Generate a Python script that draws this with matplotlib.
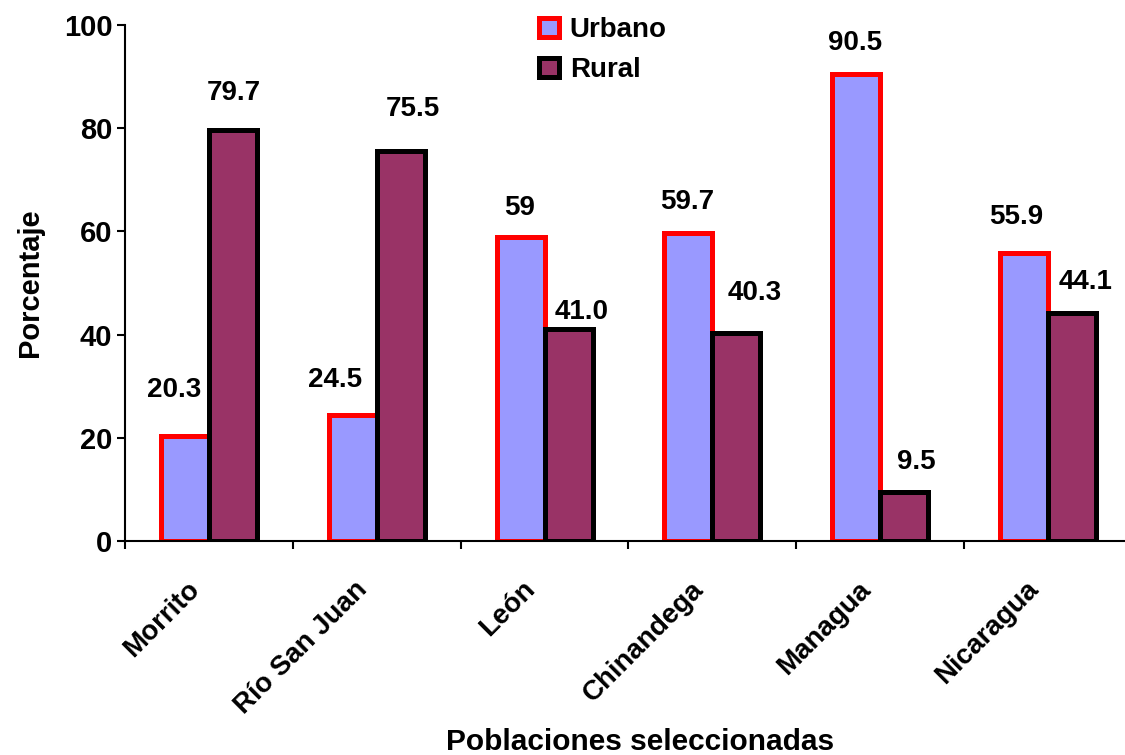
import matplotlib.pyplot as plt
from matplotlib.patches import Patch
from matplotlib.transforms import ScaledTranslation
import numpy as np

# Población urbana / rural por lugar (%)
lugares = ['Morrito', 'Río San Juan', 'León', 'Chinandega', 'Managua', 'Nicaragua']
urbano = [20.3, 24.5, 59, 59.7, 90.5, 55.9]
rural = [79.7, 75.5, 41.0, 40.3, 9.5, 44.1]
urbano_txt = ['20.3', '24.5', '59', '59.7', '90.5', '55.9']
rural_txt = ['79.7', '75.5', '41.0', '40.3', '9.5', '44.1']

# desplazamiento de las etiquetas (pixeles) respecto al tope de cada barra
urbano_dx = [-11, -18, -1, -1, -1, -8]
urbano_dy = [46, 35, 29, 31, 31, 36]
rural_dx = [1, 12, 13, 18, 12, 13]
rural_dy = [37, 42, 17, 40, 30, 31]

plt.rcParams['font.family'] = ['Liberation Sans', 'DejaVu Sans']
plt.rcParams['font.weight'] = 'bold'

fig = plt.figure(figsize=(11.25, 7.55), dpi=100)
ax = fig.add_axes([125/1125, 1-541/755, 1007/1125, 516/755])

x = np.arange(len(lugares))
w = 0.286
ax.bar(x - w/2, urbano, w, color='#9999FF', edgecolor='#FF0000', linewidth=3.6, zorder=2)
ax.bar(x + w/2, rural, w, color='#993366', edgecolor='black', linewidth=3.6, zorder=3)

for i in range(len(lugares)):
    ax.annotate(urbano_txt[i], (x[i] - w/2, urbano[i]), xytext=(urbano_dx[i], urbano_dy[i]),
                textcoords='offset pixels', ha='center', va='center', fontsize=20, fontweight='bold')
    ax.annotate(rural_txt[i], (x[i] + w/2, rural[i]), xytext=(rural_dx[i], rural_dy[i]),
                textcoords='offset pixels', ha='center', va='center', fontsize=20, fontweight='bold')

ax.set_xlim(-0.5, len(lugares) - 0.5)
ax.set_ylim(0, 100)
ax.set_yticks(range(0, 101, 20))
ax.tick_params(axis='y', labelsize=21, length=6, width=1.5, pad=3)
ax.set_xticks(x)
ax.set_xticklabels(lugares, rotation=45, ha='right', va='center', rotation_mode='anchor', fontsize=20)
ax.tick_params(axis='x', which='major', length=0, pad=32)
ax.set_xticks(np.arange(-0.5, len(lugares), 1), minor=True)
ax.tick_params(axis='x', which='minor', length=6, width=1.5)
shift = ScaledTranslation(-13/100, 0, fig.dpi_scale_trans)
for lbl in ax.get_xticklabels():
    lbl.set_transform(lbl.get_transform() + shift)

for s in ['top', 'right']:
    ax.spines[s].set_visible(False)
for s in ['left', 'bottom']:
    ax.spines[s].set_linewidth(1.5)
ax.spines['bottom'].set_zorder(5)

ax.set_ylabel('Porcentaje', fontsize=21, fontweight='bold', labelpad=14)
fig.text(640/1125, 1-742/755, 'Poblaciones seleccionadas', ha='center', va='center',
         fontsize=21.5, fontweight='bold')

handles = [Patch(facecolor='#9999FF', edgecolor='#FF0000', linewidth=3.6),
           Patch(facecolor='#993366', edgecolor='black', linewidth=3.6)]
fig.legend(handles, ['Urbano', 'Rural'], loc='upper left', bbox_to_anchor=(528/1125, 1-6/755),
           frameon=False, fontsize=20, handlelength=0.7, handleheight=0.7,
           handletextpad=0.4, labelspacing=0.5, borderaxespad=0)

fig.savefig('out.png', dpi=100)
